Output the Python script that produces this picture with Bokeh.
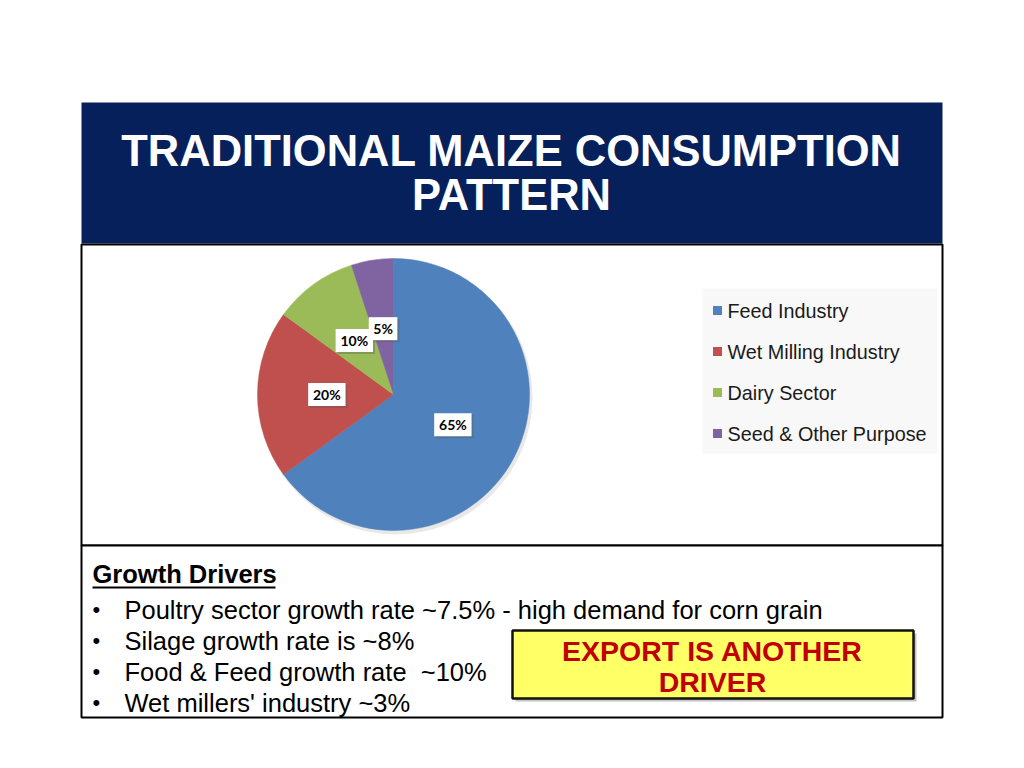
import math
from bokeh.plotting import figure
from bokeh.models import Range1d
from bokeh.core.properties import value
from bokeh.embed import file_html
from bokeh.resources import INLINE

# ---- data ----
categories = ["Feed Industry", "Wet Milling Industry", "Dairy Sector", "Seed & Other Purpose"]
shares = [65, 20, 10, 5]
slice_colors = ["#4F81BD", "#C0504D", "#9BBB59", "#8064A2"]
title_lines = ["TRADITIONAL MAIZE CONSUMPTION", "PATTERN"]
drivers_heading = "Growth Drivers"
drivers = [
    "Poultry sector growth rate ~7.5% - high demand for corn grain",
    "Silage growth rate is ~8%",
    "Food & Feed growth rate \u00a0~10%",
    "Wet millers' industry ~3%",
]
callout_lines = ["EXPORT IS ANOTHER", "DRIVER"]

W, H = 1008, 752


def Y(sy):
    # screen y (page pixels) -> data y
    return 768 - sy


p = figure(width=W, height=H, x_range=Range1d(0, W), y_range=Range1d(768 - H, 768),
           output_backend="svg", toolbar_location=None, min_border=0,
           x_axis_location=None, y_axis_location=None)
p.grid.visible = False
p.outline_line_color = None
p.background_fill_color = "white"
p.border_fill_color = "white"

# ---- frames ----
p.quad(left=[81], right=[942], top=[Y(102)], bottom=[Y(243)], fill_color="#06205C", line_color=None)
p.quad(left=[81], right=[942], top=[Y(244)], bottom=[Y(545)], fill_color="white",
       line_color="black", line_width=2)
p.quad(left=[81], right=[942], top=[Y(545)], bottom=[Y(717)], fill_color="white",
       line_color="black", line_width=2)

# ---- title ----
title_font = value("Liberation Sans")
p.text(x=[511, 511], y=[Y(150), Y(194)], text=title_lines, text_align="center",
       text_baseline="middle", text_font=title_font, text_font_style="bold",
       text_font_size="43.5px", text_color="white")

# ---- pie ----
cx, cy, R = 393, Y(394), 136
total = float(sum(shares))
starts, ends, lx, ly, labels = [], [], [], [], []
cum = 0.0
for s in shares:
    a0 = math.pi / 2 - 2 * math.pi * (cum + s) / total
    a1 = math.pi / 2 - 2 * math.pi * cum / total
    starts.append(a0)
    ends.append(a1)
    mid = (a0 + a1) / 2
    lx.append(cx + 0.49 * R * math.cos(mid))
    ly.append(cy + 0.49 * R * math.sin(mid))
    labels.append(f"{s}%")
    cum += s

# soft shadow
p.circle(x=[cx + 2], y=[cy - 3], radius=R + 1, fill_color="#D9D9D9", fill_alpha=0.6, line_color=None)
p.wedge(x=cx, y=cy, radius=R, start_angle=starts, end_angle=ends,
        fill_color=slice_colors, line_color=slice_colors, line_width=0.5)

bw = [11 + 8.8 * len(t) for t in labels]
p.rect(x=[x + 2 for x in lx], y=[y - 2 for y in ly], width=bw, height=23,
       fill_color="#555555", fill_alpha=0.35, line_color=None)
p.rect(x=lx, y=ly, width=bw, height=23, fill_color="white", line_color=None)
p.text(x=lx, y=ly, text=labels, text_align="center", text_baseline="middle",
       text_font=value("Lato"), text_font_style="bold", text_font_size="14px", text_color="black")

# ---- legend ----
p.quad(left=[702], right=[937], top=[Y(288)], bottom=[Y(453)], fill_color="#F8F8F8", line_color=None)
leg_y = [Y(310 + 41 * i) for i in range(len(categories))]
p.rect(x=[717] * len(categories), y=leg_y, width=9, height=9, fill_color=slice_colors, line_color=None)
p.text(x=[727] * len(categories), y=leg_y, text=categories, text_align="left", text_baseline="middle",
       text_font=value("Liberation Sans"), text_font_size="19.8px", text_color="#1a1a1a")

# ---- growth drivers ----
body_font = value("Liberation Sans")
p.text(x=[92], y=[Y(573)], text=[drivers_heading], text_align="left", text_baseline="middle",
       text_font=body_font, text_font_style="bold", text_font_size="25.5px", text_color="black")
p.segment(x0=[92], y0=[Y(587)], x1=[275], y1=[Y(587)], line_color="black", line_width=2)
row_y = [Y(609 + 31 * i) for i in range(len(drivers))]
p.text(x=[92] * len(drivers), y=row_y, text=["•"] * len(drivers), text_align="left",
       text_baseline="middle", text_font=value("Liberation Sans"), text_font_size="22px", text_color="black")
p.text(x=[124] * len(drivers), y=row_y, text=drivers, text_align="left", text_baseline="middle",
       text_font=body_font, text_font_size="25.5px", text_color="black")

# ---- callout ----
p.quad(left=[515], right=[916], top=[Y(633)], bottom=[Y(701)], fill_color="#888888", fill_alpha=0.5,
       line_color=None)
p.quad(left=[512], right=[913], top=[Y(630)], bottom=[Y(698)], fill_color="#FFFF66",
       line_color="#111111", line_width=2.5)
p.text(x=[712, 712], y=[Y(650), Y(681)], text=callout_lines, text_align="center", text_baseline="middle",
       text_font=title_font, text_font_style="bold", text_font_size="28.5px", text_color="#C00000")

open("out.html", "w").write(file_html(p, INLINE))
